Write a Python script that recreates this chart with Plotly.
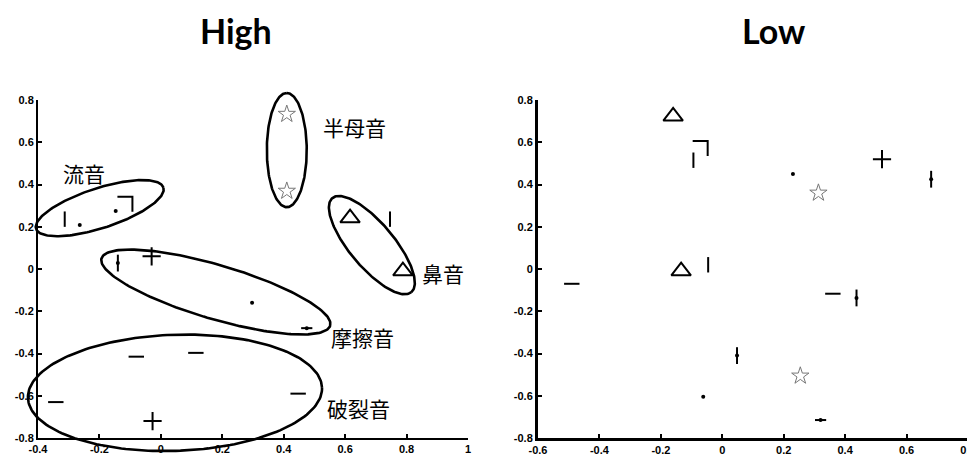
import numpy as np
import plotly.graph_objects as go

# ---------------- data ----------------
panel_titles = ["High", "Low"]
group_labels = ["流音", "半母音", "鼻音", "摩擦音", "破裂音"]

x_ticks_high = [-0.4, -0.2, 0, 0.2, 0.4, 0.6, 0.8, 1]
x_tick_text_high = ["-0.4", "-0.2", "0", "0.2", "0.4", "0.6", "0.8", "1"]
x_ticks_low = [-0.6, -0.4, -0.2, 0, 0.2, 0.4, 0.6, 0.8]
x_tick_text_low = ["-0.6", "-0.4", "-0.2", "0", "0.2", "0.4", "0.6", "0.8"]
y_ticks = [-0.8, -0.6, -0.4, -0.2, 0, 0.2, 0.4, 0.6, 0.8]
y_tick_text = ["-0.8", "-0.6", "-0.4", "-0.2", "0", "0.2", "0.4", "0.6", "0.8"]

# High panel points
high_tri_x = [0.616, 0.788]
high_tri_y = [0.241, -0.010]
high_plus_x = [-0.030, -0.027]
high_plus_y = [0.060, -0.720]
high_dash_x = [-0.080, 0.114, -0.342, 0.447]
high_dash_y = [-0.415, -0.397, -0.630, -0.590]
high_vbar_x = [-0.313, 0.746]
high_vbar_y = [0.236, 0.236]
high_dagger_x = [-0.140]
high_dagger_y = [0.028]
high_hdagger_x = [0.475]
high_hdagger_y = [-0.280]
high_dot_x = [-0.264, -0.147, 0.297]
high_dot_y = [0.208, 0.274, -0.160]
high_star_x = [0.410, 0.410]
high_star_y = [0.733, 0.369]
high_corner_x = [-0.117]
high_corner_y = [0.307]

# Low panel points
low_tri_x = [-0.160, -0.134]
low_tri_y = [0.723, -0.010]
low_plus_x = [0.520]
low_plus_y = [0.520]
low_dash_x = [-0.490, 0.360]
low_dash_y = [-0.070, -0.117]
low_vbar_x = [-0.094, -0.046]
low_vbar_y = [0.515, 0.020]
low_dagger_x = [0.680, 0.437, 0.048]
low_dagger_y = [0.425, -0.137, -0.410]
low_hdagger_x = [0.320]
low_hdagger_y = [-0.715]
low_dot_x = [0.230, -0.062]
low_dot_y = [0.450, -0.605]
low_star_x = [0.313, 0.254]
low_star_y = [0.360, -0.506]
low_corner_x = [-0.072]
low_corner_y = [0.570]

# Ellipses around groups in the High panel (centre x, centre y, half-axes, tilt in degrees)
ell_cx = [-0.199, 0.410, 0.687, 0.179, 0.046]
ell_cy = [0.288, 0.563, 0.113, -0.109, -0.586]
ell_a = [0.218, 0.186, 0.200, 0.388, 0.479]
ell_b = [0.065, 0.065, 0.072, 0.088, 0.189]
ell_tilt = [18, 90, -50, -16.4, 2]

# ---------------- layout geometry ----------------
W, H = 975, 455
OFF = 8  # default page body margin in the written html


def fx(px):
    return (px - OFF) / W


def fy(py):
    return (H - (py - OFF)) / H


xdom_high = [fx(38), fx(468)]
xdom_low = [fx(538), fx(968)]
ydom = [fy(438), fy(100)]
xr_high = [-0.4, 1.0]
xr_low = [-0.6, 0.8]
yr = [-0.8, 0.8]

px_per_x = (xdom_high[1] - xdom_high[0]) * W / (xr_high[1] - xr_high[0])
px_per_y = (ydom[1] - ydom[0]) * H / (yr[1] - yr[0])
k = px_per_y / px_per_x

fig = go.Figure()
BLACK = "black"


def add_points(xs, ys, xa, ya, symbol, size, width=2, color=BLACK):
    fig.add_trace(go.Scatter(
        x=xs, y=ys, mode="markers", xaxis=xa, yaxis=ya, cliponaxis=False,
        marker=dict(symbol=symbol, size=size, color=color,
                    line=dict(color=color, width=width)),
        showlegend=False, hoverinfo="skip"))


def add_corner(xs, ys, xa, ya):
    dx = 7.5 / px_per_x
    dy = 7.5 / px_per_y
    px, py = [], []
    for x0, y0 in zip(xs, ys):
        px += [x0 - dx, x0 + dx, x0 + dx, None]
        py += [y0 + dy, y0 + dy, y0 - dy, None]
    fig.add_trace(go.Scatter(x=px, y=py, mode="lines", xaxis=xa, yaxis=ya,
                             line=dict(color=BLACK, width=2),
                             showlegend=False, hoverinfo="skip"))


def add_panel(xa, ya, d):
    add_points(d["tri"][0], d["tri"][1], xa, ya, "triangle-up-open", 17)
    add_points(d["plus"][0], d["plus"][1], xa, ya, "cross-thin-open", 13)
    add_points(d["dash"][0], d["dash"][1], xa, ya, "line-ew-open", 11)
    add_points(d["vbar"][0], d["vbar"][1], xa, ya, "line-ns-open", 11)
    add_points(d["dagger"][0], d["dagger"][1], xa, ya, "line-ns-open", 12)
    add_points(d["dagger"][0], d["dagger"][1], xa, ya, "circle", 4, 0)
    add_points(d["hdagger"][0], d["hdagger"][1], xa, ya, "line-ew-open", 8)
    add_points(d["hdagger"][0], d["hdagger"][1], xa, ya, "circle", 4, 0)
    add_points(d["dot"][0], d["dot"][1], xa, ya, "circle", 4, 0)
    add_points(d["star"][0], d["star"][1], xa, ya, "star-open", 13, 1, "#777777")
    add_corner(d["corner"][0], d["corner"][1], xa, ya)


add_panel("x", "y", dict(
    tri=(high_tri_x, high_tri_y), plus=(high_plus_x, high_plus_y),
    dash=(high_dash_x, high_dash_y), vbar=(high_vbar_x, high_vbar_y),
    dagger=(high_dagger_x, high_dagger_y), hdagger=(high_hdagger_x, high_hdagger_y),
    dot=(high_dot_x, high_dot_y), star=(high_star_x, high_star_y),
    corner=(high_corner_x, high_corner_y)))

add_panel("x2", "y2", dict(
    tri=(low_tri_x, low_tri_y), plus=(low_plus_x, low_plus_y),
    dash=(low_dash_x, low_dash_y), vbar=(low_vbar_x, low_vbar_y),
    dagger=(low_dagger_x, low_dagger_y), hdagger=(low_hdagger_x, low_hdagger_y),
    dot=(low_dot_x, low_dot_y), star=(low_star_x, low_star_y),
    corner=(low_corner_x, low_corner_y)))

# ellipses on an overlay subplot with identical scale but wider domain (so they are not clipped)
ov_xdom = [0.0, 0.5]
ov_ydom = [0.0, 0.88]
sx = (xr_high[1] - xr_high[0]) / (xdom_high[1] - xdom_high[0])
sy = (yr[1] - yr[0]) / (ydom[1] - ydom[0])
ov_xr = [xr_high[0] - (xdom_high[0] - ov_xdom[0]) * sx, xr_high[1] + (ov_xdom[1] - xdom_high[1]) * sx]
ov_yr = [yr[0] - (ydom[0] - ov_ydom[0]) * sy, yr[1] + (ov_ydom[1] - ydom[1]) * sy]

t = np.linspace(0, 2 * np.pi, 200)
for cx, cy, a, b, th in zip(ell_cx, ell_cy, ell_a, ell_b, ell_tilt):
    r = np.deg2rad(th)
    u = cx + a * np.cos(r) * np.cos(t) - b * np.sin(r) * np.sin(t)
    v = cy * k + a * np.sin(r) * np.cos(t) + b * np.cos(r) * np.sin(t)
    fig.add_trace(go.Scatter(x=u, y=v / k, mode="lines", xaxis="x3", yaxis="y3",
                             line=dict(color=BLACK, width=2.6),
                             showlegend=False, hoverinfo="skip"))

tickfont = dict(family="Liberation Sans", size=11, color=BLACK, weight="bold")


def axis(dom, rng, tv, tt, anchor, lw):
    return dict(domain=dom, range=rng, tickvals=tv, ticktext=tt, anchor=anchor,
                showline=True, linecolor=BLACK, linewidth=lw, ticks="inside",
                ticklen=4, tickwidth=2, tickcolor=BLACK, showgrid=False,
                zeroline=False, tickfont=tickfont, fixedrange=True, automargin=False)


fig.update_layout(
    width=W, height=H,
    margin=dict(l=0, r=0, t=0, b=0),
    paper_bgcolor="white", plot_bgcolor="rgba(0,0,0,0)",
    xaxis=axis(xdom_high, xr_high, x_ticks_high, x_tick_text_high, "y", 2),
    yaxis=axis(ydom, yr, y_ticks, y_tick_text, "x", 2),
    xaxis2=axis(xdom_low, xr_low, x_ticks_low, x_tick_text_low, "y2", 3),
    yaxis2=axis(ydom, yr, y_ticks, y_tick_text, "x2", 3),
    xaxis3=dict(domain=ov_xdom, range=ov_xr, anchor="y3", visible=False, fixedrange=True),
    yaxis3=dict(domain=ov_ydom, range=ov_yr, anchor="x3", visible=False, fixedrange=True),
)

# panel titles
title_pos = [(fx(236), fy(30)), (fx(773), fy(30))]
for txt, (tx, ty) in zip(panel_titles, title_pos):
    fig.add_annotation(text=txt, x=tx, y=ty, xref="paper", yref="paper",
                       showarrow=False, xanchor="center", yanchor="middle",
                       font=dict(family="Lato", size=34, color=BLACK, weight="bold"))

# group labels (High panel)
label_pos = [(-0.251, 0.454), (0.629, 0.671), (0.919, -0.019), (0.655, -0.322), (0.642, -0.657)]
for txt, (lx, ly) in zip(group_labels, label_pos):
    fig.add_annotation(text=txt, x=lx, y=ly, xref="x", yref="y", showarrow=False,
                       xanchor="center", yanchor="middle",
                       font=dict(family="Noto Sans CJK JP", size=21, color=BLACK))

fig.write_html("out.html")
